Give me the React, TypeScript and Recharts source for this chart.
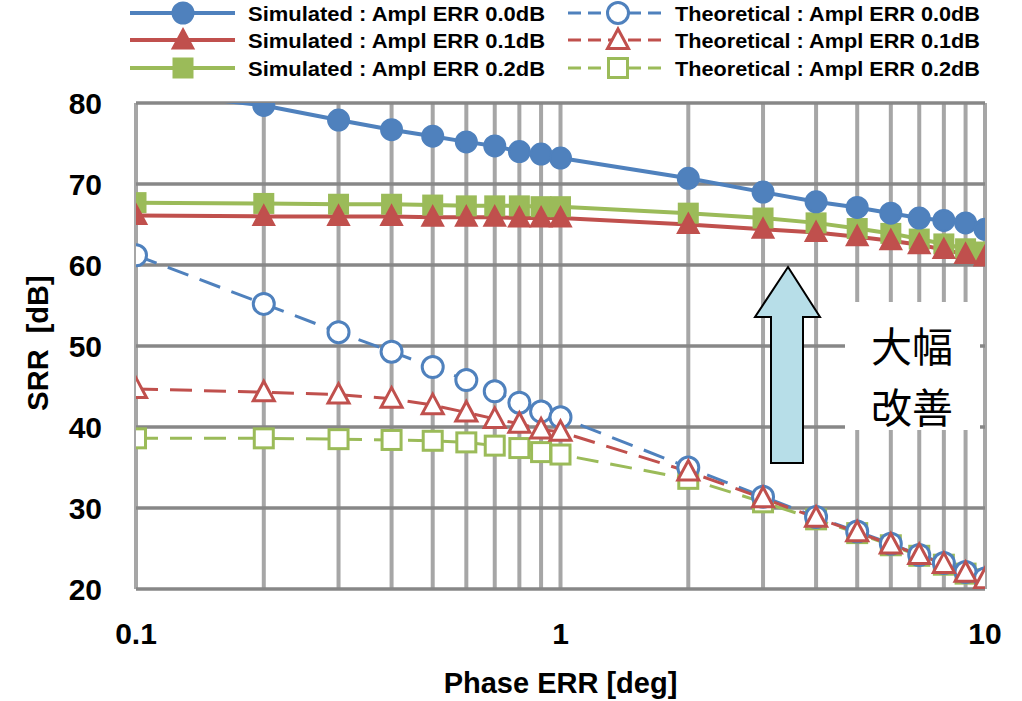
import React from 'react';
import { LineChart, Line, XAxis, YAxis, CartesianGrid, Legend } from 'recharts';

// x positions of all measured points (phase error, degrees)
const phaseErr = [0.1, 0.2, 0.3, 0.4, 0.5, 0.6, 0.7, 0.8, 0.9, 1, 2, 3, 4, 5, 6, 7, 8, 9, 10];
const xLabelTicks = [0.1, 1, 10];
const yTicks = [20, 30, 40, 50, 60, 70, 80];

// simulated SRR [dB]
const simAmpl00 = [81.5, 79.7, 77.9, 76.7, 75.9, 75.2, 74.7, 74.0, 73.7, 73.2, 70.7, 69.0, 67.8, 67.1, 66.4, 65.8, 65.5, 65.2, 64.4];
const simAmpl01 = [66.1, 66.0, 66.0, 66.0, 65.9, 65.9, 65.9, 65.8, 65.8, 65.8, 65.0, 64.4, 64.0, 63.5, 63.0, 62.5, 61.9, 61.3, 61.0];
const simAmpl02 = [67.7, 67.6, 67.5, 67.5, 67.4, 67.3, 67.3, 67.3, 67.2, 67.2, 66.4, 65.8, 65.2, 64.5, 63.9, 63.2, 62.6, 62.0, 61.6];

// theoretical SRR [dB]
const theoAmpl00 = [61.2, 55.2, 51.7, 49.3, 47.4, 45.8, 44.4, 43.0, 41.9, 41.2, 35.0, 31.4, 28.9, 27.1, 25.6, 24.2, 23.2, 22.1, 21.3];
const theoAmpl01 = [44.7, 44.3, 44.0, 43.5, 42.7, 41.8, 41.0, 40.4, 39.7, 39.4, 34.5, 31.2, 28.8, 27.0, 25.5, 24.2, 23.1, 22.0, 21.2];
const theoAmpl02 = [38.6, 38.6, 38.5, 38.4, 38.3, 38.1, 37.7, 37.4, 36.9, 36.6, 33.6, 30.7, 28.6, 26.9, 25.4, 24.1, 23.0, 21.9, 21.2];

const BLUE = '#4F81BD';
const RED = '#C0504D';
const GREEN = '#9BBB59';
const FONT = '"Liberation Sans", Arial, sans-serif';
const CJK = '"Noto Sans CJK JP", sans-serif';

type Shape = 'circle' | 'triangle' | 'square';
type Series = { key: string; name: string; values: number[]; color: string; shape: Shape; dashed: boolean };

const sim00: Series = { key: 'sim00', name: 'Simulated : Ampl ERR 0.0dB', values: simAmpl00, color: BLUE, shape: 'circle', dashed: false };
const sim01: Series = { key: 'sim01', name: 'Simulated : Ampl ERR 0.1dB', values: simAmpl01, color: RED, shape: 'triangle', dashed: false };
const sim02: Series = { key: 'sim02', name: 'Simulated : Ampl ERR 0.2dB', values: simAmpl02, color: GREEN, shape: 'square', dashed: false };
const theo00: Series = { key: 'theo00', name: 'Theoretical : Ampl ERR 0.0dB', values: theoAmpl00, color: BLUE, shape: 'circle', dashed: true };
const theo01: Series = { key: 'theo01', name: 'Theoretical : Ampl ERR 0.1dB', values: theoAmpl01, color: RED, shape: 'triangle', dashed: true };
const theo02: Series = { key: 'theo02', name: 'Theoretical : Ampl ERR 0.2dB', values: theoAmpl02, color: GREEN, shape: 'square', dashed: true };

// drawing order (later = on top)
const drawOrder = [theo02, theo00, theo01, sim02, sim00, sim01];
const legendCols = [
  [sim00, sim01, sim02],
  [theo00, theo01, theo02],
];

const data = phaseErr.map((x, i) => {
  const row: Record<string, number> = { x };
  drawOrder.forEach(s => { row[s.key] = s.values[i]; });
  return row;
});

function Marker({ cx, cy, s }: { cx: number; cy: number; s: Series }) {
  const fill = s.dashed ? '#fff' : s.color;
  const sw = s.dashed ? 3 : 2;
  if (s.shape === 'circle') {
    return <circle cx={cx} cy={cy} r={10.5} fill={fill} stroke={s.color} strokeWidth={sw} />;
  }
  if (s.shape === 'square') {
    return <rect x={cx - 9.5} y={cy - 9.5} width={19} height={19} fill={fill} stroke={s.color} strokeWidth={sw} />;
  }
  return (
    <polygon
      points={`${cx},${cy - 11} ${cx + 10.5},${cy + 8.5} ${cx - 10.5},${cy + 8.5}`}
      fill={fill}
      stroke={s.color}
      strokeWidth={sw}
    />
  );
}

function LegendBox() {
  const rows = [13, 40, 68];
  const cols = [
    { x1: 130, x2: 235, mx: 183, tx: 248, tw: 297 },
    { x1: 568, x2: 668, mx: 618, tx: 675, tw: 305 },
  ];
  return (
    <svg width={1022} height={85}>
      {legendCols.map((col, ci) =>
        col.map((s, ri) => (
          <g key={s.key}>
            <line
              x1={cols[ci].x1}
              x2={cols[ci].x2}
              y1={rows[ri]}
              y2={rows[ri]}
              stroke={s.color}
              strokeWidth={s.dashed ? 3 : 4}
              strokeDasharray={s.dashed ? '13 7' : undefined}
            />
            <Marker cx={cols[ci].mx} cy={rows[ri]} s={s} />
            <text
              x={cols[ci].tx}
              y={rows[ri]}
              dominantBaseline="central"
              fontFamily={FONT}
              fontWeight="bold"
              fontSize={21}
              textLength={cols[ci].tw}
              lengthAdjust="spacingAndGlyphs"
              fill="#000"
            >
              {s.name}
            </text>
          </g>
        ))
      )}
    </svg>
  );
}

function YTitle(props: any) {
  const vb = props.viewBox || { y: 103, height: 486 };
  const cy = vb.y + vb.height / 2 - 3;
  return (
    <text
      x={38}
      y={cy}
      transform={`rotate(-90 38 ${cy})`}
      textAnchor="middle"
      dominantBaseline="central"
      fontFamily={FONT}
      fontWeight="bold"
      fontSize={29}
      fill="#000"
    >
      {'SRR\u00A0\u00A0[dB]'}
    </text>
  );
}

export default function App() {
  const tickStyle = { fontSize: 30, fontWeight: 'bold', fill: '#000', fontFamily: FONT };
  return (
    <div style={{ position: 'absolute', left: 0, top: 0, width: 1022, height: 701, background: '#fff' }}>
      <LineChart width={1022} height={701} data={data} margin={{ top: 103, right: 37, bottom: 0, left: 0 }}>
        <CartesianGrid horizontal={false} stroke="#A6A6A6" strokeWidth={4} />
        <CartesianGrid vertical={false} stroke="#878787" strokeWidth={3.5} />
        <XAxis
          dataKey="x"
          type="number"
          scale="log"
          domain={[0.1, 10]}
          ticks={phaseErr}
          interval={0}
          allowDataOverflow
          tickFormatter={(v: number) => (xLabelTicks.includes(v) ? String(v) : '')}
          tickSize={0}
          tickMargin={34}
          axisLine={false}
          tick={tickStyle}
          height={112}
          label={{ value: 'Phase ERR [deg]', position: 'insideBottom', offset: 8, fontSize: 29, fontWeight: 'bold', fill: '#000', fontFamily: FONT }}
        />
        <YAxis
          type="number"
          domain={[20, 80]}
          ticks={yTicks}
          interval={0}
          allowDataOverflow
          tickSize={0}
          tickMargin={34}
          axisLine={false}
          tick={tickStyle}
          width={136}
          label={<YTitle />}
        />
        <Legend
          verticalAlign="middle"
          align="center"
          layout="horizontal"
          wrapperStyle={{ top: 0, left: 0, width: 1022, height: 85 }}
          content={() => <LegendBox />}
        />
        {drawOrder.map(s => (
          <Line
            key={s.key}
            dataKey={s.key}
            name={s.name}
            type="linear"
            stroke={s.color}
            strokeWidth={s.dashed ? 3 : 4}
            strokeDasharray={s.dashed ? '22 12' : undefined}
            dot={(p: any) => <Marker key={`${s.key}-${p.index}`} cx={p.cx} cy={p.cy} s={s} />}
            activeDot={false}
            isAnimationActive={false}
          />
        ))}
      </LineChart>
      <svg width={1022} height={701} style={{ position: 'absolute', left: 0, top: 0, pointerEvents: 'none' }}>
        <polygon
          points="788,267 820,317 803,317 803,463 771,463 771,317 755,317"
          fill="#B7DEE8"
          stroke="#000"
          strokeWidth={2}
        />
        <rect x={845} y={302} width={135} height={128} fill="#fff" />
        <text x={912} y={344} textAnchor="middle" dominantBaseline="central" fontSize={41} fontFamily={CJK} fill="#000">
          大幅
        </text>
        <text x={912} y={405} textAnchor="middle" dominantBaseline="central" fontSize={41} fontFamily={CJK} fill="#000">
          改善
        </text>
      </svg>
    </div>
  );
}
